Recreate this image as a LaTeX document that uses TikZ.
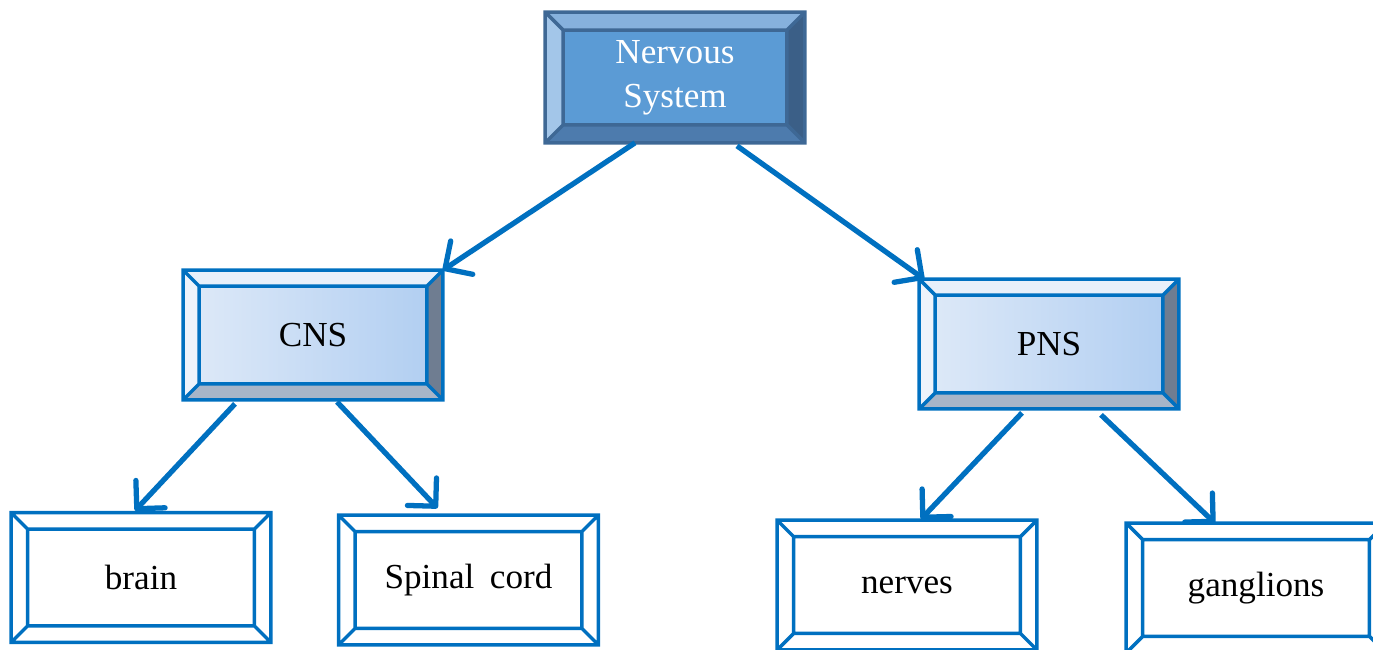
\documentclass[tikz,border=0pt]{standalone}
\usepackage{fontspec}
\setmainfont{Liberation Serif}
\usetikzlibrary{arrows.meta}

\definecolor{lineblue}{HTML}{0070C0}
\definecolor{topface}{HTML}{5B9BD5}
\definecolor{topedge}{HTML}{3E6895}
\definecolor{toptop}{HTML}{86B1DD}
\definecolor{topleft}{HTML}{A3C6E9}
\definecolor{topright}{HTML}{3B5F87}
\definecolor{topbottom}{HTML}{4D7BAD}
\definecolor{midlight}{HTML}{DFEAF8}
\definecolor{middark}{HTML}{AFCDF1}
\definecolor{midtop}{HTML}{E8F0FA}
\definecolor{midleft}{HTML}{EDF3FB}
\definecolor{midright}{HTML}{6F7D91}
\definecolor{midbottom}{HTML}{A7B5C8}

% bevel frame round a node: name, inset, top, left, right, bottom, line colour
\newcommand{\bevel}[7]{%
  \fill[#3] (#1.north west) -- (#1.north east) -- ([shift={(-#2,-#2)}]#1.north east) -- ([shift={(#2,-#2)}]#1.north west) -- cycle;
  \fill[#4] (#1.north west) -- (#1.south west) -- ([shift={(#2,#2)}]#1.south west) -- ([shift={(#2,-#2)}]#1.north west) -- cycle;
  \fill[#5] (#1.north east) -- (#1.south east) -- ([shift={(-#2,#2)}]#1.south east) -- ([shift={(-#2,-#2)}]#1.north east) -- cycle;
  \fill[#6] (#1.south west) -- (#1.south east) -- ([shift={(-#2,#2)}]#1.south east) -- ([shift={(#2,#2)}]#1.south west) -- cycle;
  \draw[#7, line width=2pt] (#1.north west) rectangle (#1.south east)
    ([shift={(#2,-#2)}]#1.north west) rectangle ([shift={(-#2,#2)}]#1.south east)
    (#1.north west) -- ++(#2,-#2) (#1.north east) -- ++(-#2,-#2)
    (#1.south west) -- ++(#2,#2) (#1.south east) -- ++(-#2,#2);
}

\begin{document}
\begin{tikzpicture}[box/.style={minimum width=5.18cm, minimum height=2.58cm, inner sep=0pt, font=\fontsize{20}{25}\selectfont, align=center},
  root/.style={box, fill=topface, text=white, minimum height=2.6cm},
  mid/.style={box, left color=midlight, right color=middark},
  leaf/.style={box, fill=white},
  arr/.style={draw=lineblue, line width=3pt, -{Straight Barb[length=4mm, width=8mm, line width=3pt, round]}}]
  \useasboundingbox (0,0) rectangle (27.46,-13);

  \node[root] (ns) at (13.5,-1.55) {Nervous\\System};
  \node[mid] (cns) at (6.26,-6.7) {CNS};
  \node[mid] (pns) at (20.98,-6.88) {PNS};
  \node[leaf] (brain) at (2.82,-11.55) {brain};
  \node[leaf] (spinal) at (9.37,-11.6) {Spinal\;\,cord};
  \node[leaf] (nerves) at (18.14,-11.7) {nerves};
  \node[leaf] (ganglions) at (25.12,-11.76) {ganglions};

  \bevel{ns}{0.36}{toptop}{topleft}{topright}{topbottom}{topedge}
  \bevel{cns}{0.32}{midtop}{midleft}{midright}{midbottom}{lineblue}
  \bevel{pns}{0.32}{midtop}{midleft}{midright}{midbottom}{lineblue}
  \bevel{brain}{0.33}{white}{white}{white}{white}{lineblue}
  \bevel{spinal}{0.33}{white}{white}{white}{white}{lineblue}
  \bevel{nerves}{0.33}{white}{white}{white}{white}{lineblue}
  \bevel{ganglions}{0.33}{white}{white}{white}{white}{lineblue}

  \draw[arr] ([xshift=-0.8cm]ns.south) -- (cns.north east);
  \draw[arr] ([xshift=1.24cm,yshift=-0.06cm]ns.south) -- ([xshift=0.1cm]pns.north west);
  \draw[arr] ([xshift=-1.56cm,yshift=-0.08cm]cns.south) -- ([xshift=-0.12cm,yshift=0.04cm]brain.north);
  \draw[arr] ([xshift=0.48cm,yshift=-0.04cm]cns.south) -- ([xshift=-0.62cm,yshift=0.14cm]spinal.north);
  \draw[arr] ([xshift=-0.54cm,yshift=-0.08cm]pns.south) -- ([xshift=0.28cm,yshift=0.02cm]nerves.north);
  \draw[arr] ([xshift=1.04cm,yshift=-0.12cm]pns.south) -- ([xshift=-0.82cm]ganglions.north);
\end{tikzpicture}
\end{document}
